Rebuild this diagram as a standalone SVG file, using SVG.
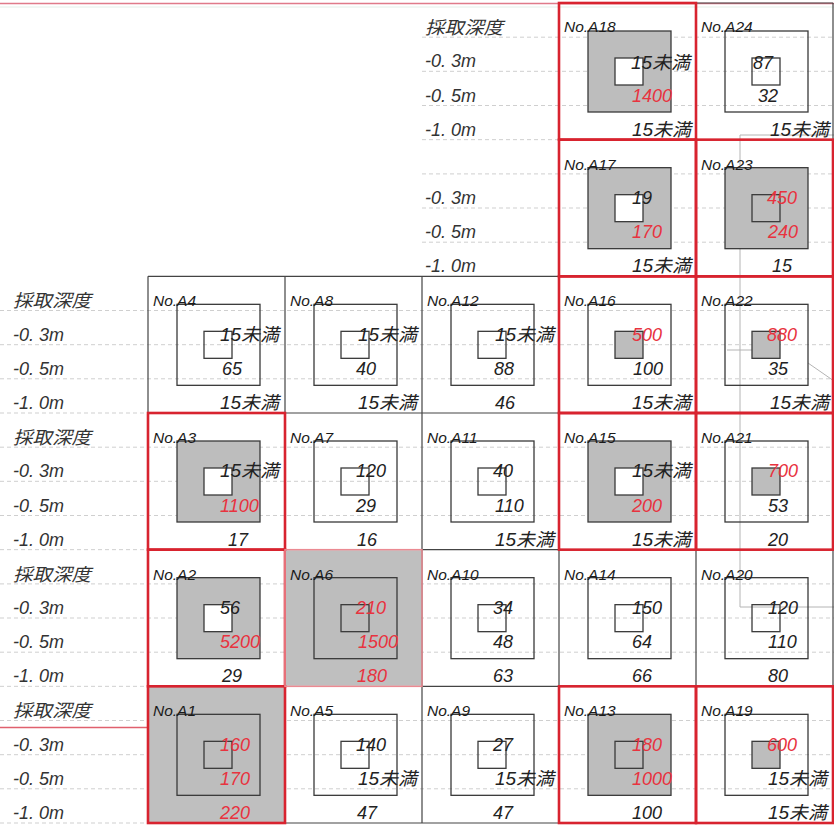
<svg xmlns="http://www.w3.org/2000/svg" width="834" height="825" viewBox="0 0 834 825">
<style>
.bg{fill:#fff}
.cf{fill:#bfbfbf}
.sq{stroke:#3a3a3a;stroke-width:1.3}
.g{fill:#bdbdbd}
.w{fill:#fff}
.n{fill:none}
.t{font-family:"Liberation Sans","Noto Sans CJK JP",sans-serif;font-style:italic;font-size:18px;fill:#222}
.r{fill:#e8333f}
.no{font-size:15.5px;fill:#1a1a1a}
.lb{font-family:"Liberation Sans","Noto Sans CJK JP",sans-serif;font-style:italic;font-size:18px;fill:#333}
.gd{stroke:#cfcfcf;stroke-dasharray:4 3;stroke-width:1;fill:none}
.cb{stroke:#444;stroke-width:1.2;fill:none}
.rb{fill:none;stroke:#d8232f;stroke-width:2.6}
.pb{fill:none;stroke:#eb8a92;stroke-width:1.5}
.map{stroke:#b4b4b4;stroke-width:1;fill:none}
</style>
<defs>
<rect id="cellbox" x="0" y="0" width="137" height="136.67"/>
</defs>
<rect class="bg" x="0" y="0" width="834" height="825"/>

<line x1="0" y1="3.5" x2="834" y2="3.5" stroke="#e07a8a" stroke-width="1.5"/>
<line x1="0" y1="7" x2="834" y2="7" stroke="#e4eee8" stroke-width="1"/>

<g id="gridlines">
<path class="gd" d="M422 37.2H834M422 71.3H834M422 105.5H834M422 139.67H559M422 173.9H834M422 208H834M422 242.2H834"/>
<path class="gd" d="M0 310.5H834M0 344.7H834M0 378.8H834M0 413H148M0 447.2H834M0 481.3H834M0 515.5H834M0 549.67H148M0 583.9H834M0 618H834M0 652.2H834M0 686.33H148M0 720.5H834M0 754.7H834M0 788.8H834M0 823H148"/>
</g>

<g id="map-lines">
<path class="map" d="M834 135H740V607H834"/>
<path class="map" d="M727 350H752"/>
<path class="map" d="M808 363L834 381"/>
</g>

<line x1="0" y1="727.5" x2="148" y2="727.5" stroke="#e0606e" stroke-width="1.6"/>

<g id="cell-grid">
<path class="cb" d="M559 3V276.33M696 3V276.33M833 3V276.33M559 3H833M559 139.67H833"/>
<path class="cb" d="M148 276.33V823M285 276.33V823M422 276.33V823M559 276.33V823M696 276.33V823M833 276.33V823M148 276.33H833M148 413H833M148 549.67H833M148 686.33H833M148 823H833"/>
</g>

<g id="depth-labels">
<text class="lb" x="425" y="34" textLength="78" lengthAdjust="spacingAndGlyphs">採取深度</text>
<text class="lb" x="425" y="67.3">-0.<tspan dx="5">3m</tspan></text>
<text class="lb" x="425" y="101.5">-0.<tspan dx="5">5m</tspan></text>
<text class="lb" x="425" y="135.7">-1.<tspan dx="5">0m</tspan></text>
<text class="lb" x="425" y="204">-0.<tspan dx="5">3m</tspan></text>
<text class="lb" x="425" y="238.2">-0.<tspan dx="5">5m</tspan></text>
<text class="lb" x="425" y="272.3">-1.<tspan dx="5">0m</tspan></text>
<text class="lb" x="13" y="307.3" textLength="78" lengthAdjust="spacingAndGlyphs">採取深度</text>
<text class="lb" x="13" y="340.6">-0.<tspan dx="5">3m</tspan></text>
<text class="lb" x="13" y="374.8">-0.<tspan dx="5">5m</tspan></text>
<text class="lb" x="13" y="409">-1.<tspan dx="5">0m</tspan></text>
<text class="lb" x="13" y="444" textLength="78" lengthAdjust="spacingAndGlyphs">採取深度</text>
<text class="lb" x="13" y="477.3">-0.<tspan dx="5">3m</tspan></text>
<text class="lb" x="13" y="511.5">-0.<tspan dx="5">5m</tspan></text>
<text class="lb" x="13" y="545.7">-1.<tspan dx="5">0m</tspan></text>
<text class="lb" x="13" y="580.7" textLength="78" lengthAdjust="spacingAndGlyphs">採取深度</text>
<text class="lb" x="13" y="614">-0.<tspan dx="5">3m</tspan></text>
<text class="lb" x="13" y="648.2">-0.<tspan dx="5">5m</tspan></text>
<text class="lb" x="13" y="682.3">-1.<tspan dx="5">0m</tspan></text>
<text class="lb" x="13" y="717.3" textLength="78" lengthAdjust="spacingAndGlyphs">採取深度</text>
<text class="lb" x="13" y="750.6">-0.<tspan dx="5">3m</tspan></text>
<text class="lb" x="13" y="784.8">-0.<tspan dx="5">5m</tspan></text>
<text class="lb" x="13" y="819">-1.<tspan dx="5">0m</tspan></text>
</g>

<g id="A4" transform="translate(148,276.33)">
<rect class="sq n" x="29" y="28" width="83" height="81"/>
<rect class="sq n" x="56" y="55" width="28" height="27"/>
<text class="t no" x="5" y="30">No.A4</text>
<text class="t" x="72" y="64.3" textLength="59" lengthAdjust="spacingAndGlyphs">15未満</text>
<text class="t" x="74" y="98.5">65</text>
<text class="t" x="72" y="132.7" textLength="59" lengthAdjust="spacingAndGlyphs">15未満</text>
</g>
<g id="A3" transform="translate(148,413)">
<rect class="sq g" x="29" y="28" width="83" height="81"/>
<rect class="sq w" x="56" y="55" width="28" height="27"/>
<text class="t no" x="5" y="30">No.A3</text>
<text class="t" x="72" y="64.3" textLength="59" lengthAdjust="spacingAndGlyphs">15未満</text>
<text class="t r" x="72" y="98.5">1100</text>
<text class="t" x="80" y="132.7">17</text>
<use href="#cellbox" class="rb"/>
</g>
<g id="A2" transform="translate(148,549.67)">
<rect class="sq g" x="29" y="28" width="83" height="81"/>
<rect class="sq w" x="56" y="55" width="28" height="27"/>
<text class="t no" x="5" y="30">No.A2</text>
<text class="t" x="72" y="64.3">56</text>
<text class="t r" x="72" y="98.5">5200</text>
<text class="t" x="74" y="132.7">29</text>
<use href="#cellbox" class="rb"/>
</g>
<g id="A1" transform="translate(148,686.33)">
<rect class="cf" x="0" y="0" width="137" height="136.67"/>
<rect class="sq g" x="29" y="28" width="83" height="81"/>
<rect class="sq g" x="56" y="55" width="28" height="27"/>
<text class="t no" x="5" y="30">No.A1</text>
<text class="t r" x="72" y="64.3">160</text>
<text class="t r" x="72" y="98.5">170</text>
<text class="t r" x="72" y="132.7">220</text>
<use href="#cellbox" class="rb"/>
</g>

<g id="A8" transform="translate(285,276.33)">
<rect class="sq n" x="29" y="28" width="83" height="81"/>
<rect class="sq n" x="56" y="55" width="28" height="27"/>
<text class="t no" x="5" y="30">No.A8</text>
<text class="t" x="73" y="64.3" textLength="59" lengthAdjust="spacingAndGlyphs">15未満</text>
<text class="t" x="71" y="98.5">40</text>
<text class="t" x="73" y="132.7" textLength="59" lengthAdjust="spacingAndGlyphs">15未満</text>
</g>
<g id="A7" transform="translate(285,413)">
<rect class="sq n" x="29" y="28" width="83" height="81"/>
<rect class="sq n" x="56" y="55" width="28" height="27"/>
<text class="t no" x="5" y="30">No.A7</text>
<text class="t" x="71" y="64.3">120</text>
<text class="t" x="71" y="98.5">29</text>
<text class="t" x="72" y="132.7">16</text>
</g>
<g id="A6" transform="translate(285,549.67)">
<rect class="cf" x="1" y="1" width="135" height="134.67"/>
<rect class="sq g" x="29" y="28" width="83" height="81"/>
<rect class="sq g" x="56" y="55" width="28" height="27"/>
<text class="t no" x="5" y="30">No.A6</text>
<text class="t r" x="71" y="64.3">210</text>
<text class="t r" x="73" y="98.5">1500</text>
<text class="t r" x="72" y="132.7">180</text>
<use href="#cellbox" class="pb"/>
</g>
<g id="A5" transform="translate(285,686.33)">
<rect class="sq n" x="29" y="28" width="83" height="81"/>
<rect class="sq n" x="56" y="55" width="28" height="27"/>
<text class="t no" x="5" y="30">No.A5</text>
<text class="t" x="71" y="64.3">140</text>
<text class="t" x="73" y="98.5" textLength="59" lengthAdjust="spacingAndGlyphs">15未満</text>
<text class="t" x="72" y="132.7">47</text>
</g>

<g id="A12" transform="translate(422,276.33)">
<rect class="sq n" x="29" y="28" width="83" height="81"/>
<rect class="sq n" x="56" y="55" width="28" height="27"/>
<text class="t no" x="5" y="30">No.A12</text>
<text class="t" x="73" y="64.3" textLength="59" lengthAdjust="spacingAndGlyphs">15未満</text>
<text class="t" x="72" y="98.5">88</text>
<text class="t" x="73" y="132.7">46</text>
</g>
<g id="A11" transform="translate(422,413)">
<rect class="sq n" x="29" y="28" width="83" height="81"/>
<rect class="sq n" x="56" y="55" width="28" height="27"/>
<text class="t no" x="5" y="30">No.A11</text>
<text class="t" x="71" y="64.3">40</text>
<text class="t" x="73" y="98.5">110</text>
<text class="t" x="73" y="132.7" textLength="59" lengthAdjust="spacingAndGlyphs">15未満</text>
</g>
<g id="A10" transform="translate(422,549.67)">
<rect class="sq n" x="29" y="28" width="83" height="81"/>
<rect class="sq n" x="56" y="55" width="28" height="27"/>
<text class="t no" x="5" y="30">No.A10</text>
<text class="t" x="71" y="64.3">34</text>
<text class="t" x="71" y="98.5">48</text>
<text class="t" x="71" y="132.7">63</text>
</g>
<g id="A9" transform="translate(422,686.33)">
<rect class="sq n" x="29" y="28" width="83" height="81"/>
<rect class="sq n" x="56" y="55" width="28" height="27"/>
<text class="t no" x="5" y="30">No.A9</text>
<text class="t" x="71" y="64.3">27</text>
<text class="t" x="73" y="98.5" textLength="59" lengthAdjust="spacingAndGlyphs">15未満</text>
<text class="t" x="71" y="132.7">47</text>
</g>

<g id="A18" transform="translate(559,3)">
<rect class="sq g" x="29" y="28" width="83" height="81"/>
<rect class="sq w" x="56" y="55" width="28" height="27"/>
<text class="t no" x="5" y="29">No.A18</text>
<text class="t" x="72" y="66" textLength="59" lengthAdjust="spacingAndGlyphs">15未満</text>
<text class="t r" x="73" y="99">1400</text>
<text class="t" x="73" y="133" textLength="59" lengthAdjust="spacingAndGlyphs">15未満</text>
<use href="#cellbox" class="rb"/>
</g>
<g id="A17" transform="translate(559,139.67)">
<rect class="sq g" x="29" y="28" width="83" height="81"/>
<rect class="sq w" x="56" y="55" width="28" height="27"/>
<text class="t no" x="5" y="30">No.A17</text>
<text class="t" x="73" y="64.3">19</text>
<text class="t r" x="73" y="98.5">170</text>
<text class="t" x="73" y="132.7" textLength="59" lengthAdjust="spacingAndGlyphs">15未満</text>
<use href="#cellbox" class="rb"/>
</g>
<g id="A16" transform="translate(559,276.33)">
<rect class="sq n" x="29" y="28" width="83" height="81"/>
<rect class="sq g" x="56" y="55" width="28" height="27"/>
<text class="t no" x="5" y="30">No.A16</text>
<text class="t r" x="73" y="64.3">500</text>
<text class="t" x="74" y="98.5">100</text>
<text class="t" x="73" y="132.7" textLength="59" lengthAdjust="spacingAndGlyphs">15未満</text>
<use href="#cellbox" class="rb"/>
</g>
<g id="A15" transform="translate(559,413)">
<rect class="sq g" x="29" y="28" width="83" height="81"/>
<rect class="sq w" x="56" y="55" width="28" height="27"/>
<text class="t no" x="5" y="30">No.A15</text>
<text class="t" x="73" y="64.3" textLength="59" lengthAdjust="spacingAndGlyphs">15未満</text>
<text class="t r" x="73" y="98.5">200</text>
<text class="t" x="73" y="132.7" textLength="59" lengthAdjust="spacingAndGlyphs">15未満</text>
<use href="#cellbox" class="rb"/>
</g>
<g id="A14" transform="translate(559,549.67)">
<rect class="sq n" x="29" y="28" width="83" height="81"/>
<rect class="sq n" x="56" y="55" width="28" height="27"/>
<text class="t no" x="5" y="30">No.A14</text>
<text class="t" x="73" y="64.3">150</text>
<text class="t" x="73" y="98.5">64</text>
<text class="t" x="73" y="132.7">66</text>
</g>
<g id="A13" transform="translate(559,686.33)">
<rect class="sq g" x="29" y="28" width="83" height="81"/>
<rect class="sq g" x="56" y="55" width="28" height="27"/>
<text class="t no" x="5" y="30">No.A13</text>
<text class="t r" x="73" y="64.3">180</text>
<text class="t r" x="73" y="98.5">1000</text>
<text class="t" x="73" y="132.7">100</text>
<use href="#cellbox" class="rb"/>
</g>

<g id="A24" transform="translate(696,3)">
<rect class="sq n" x="29" y="28" width="83" height="81"/>
<rect class="sq n" x="56" y="55" width="28" height="27"/>
<text class="t no" x="5" y="29">No.A24</text>
<text class="t" x="57" y="66">87</text>
<text class="t" x="62" y="99">32</text>
<text class="t" x="74" y="133" textLength="59" lengthAdjust="spacingAndGlyphs">15未満</text>
</g>
<g id="A23" transform="translate(696,139.67)">
<rect class="sq g" x="29" y="28" width="83" height="81"/>
<rect class="sq g" x="56" y="55" width="28" height="27"/>
<text class="t no" x="5" y="30">No.A23</text>
<text class="t r" x="71" y="64.3">450</text>
<text class="t r" x="72" y="98.5">240</text>
<text class="t" x="76" y="132.7">15</text>
<use href="#cellbox" class="rb"/>
</g>
<g id="A22" transform="translate(696,276.33)">
<rect class="sq n" x="29" y="28" width="83" height="81"/>
<rect class="sq g" x="56" y="55" width="28" height="27"/>
<text class="t no" x="5" y="30">No.A22</text>
<text class="t r" x="71" y="64.3">880</text>
<text class="t" x="72" y="98.5">35</text>
<text class="t" x="74" y="132.7" textLength="59" lengthAdjust="spacingAndGlyphs">15未満</text>
<use href="#cellbox" class="rb"/>
</g>
<g id="A21" transform="translate(696,413)">
<rect class="sq n" x="29" y="28" width="83" height="81"/>
<rect class="sq g" x="56" y="55" width="28" height="27"/>
<text class="t no" x="5" y="30">No.A21</text>
<text class="t r" x="72" y="64.3">700</text>
<text class="t" x="72" y="98.5">53</text>
<text class="t" x="72" y="132.7">20</text>
<use href="#cellbox" class="rb"/>
</g>
<g id="A20" transform="translate(696,549.67)">
<rect class="sq n" x="29" y="28" width="83" height="81"/>
<rect class="sq n" x="56" y="55" width="28" height="27"/>
<text class="t no" x="5" y="30">No.A20</text>
<text class="t" x="72" y="64.3">120</text>
<text class="t" x="72" y="98.5">110</text>
<text class="t" x="72" y="132.7">80</text>
</g>
<g id="A19" transform="translate(696,686.33)">
<rect class="sq n" x="29" y="28" width="83" height="81"/>
<rect class="sq g" x="56" y="55" width="28" height="27"/>
<text class="t no" x="5" y="30">No.A19</text>
<text class="t r" x="71" y="64.3">600</text>
<text class="t" x="72" y="98.5" textLength="59" lengthAdjust="spacingAndGlyphs">15未満</text>
<text class="t" x="72" y="132.7" textLength="59" lengthAdjust="spacingAndGlyphs">15未満</text>
<use href="#cellbox" class="rb"/>
</g>
</svg>
